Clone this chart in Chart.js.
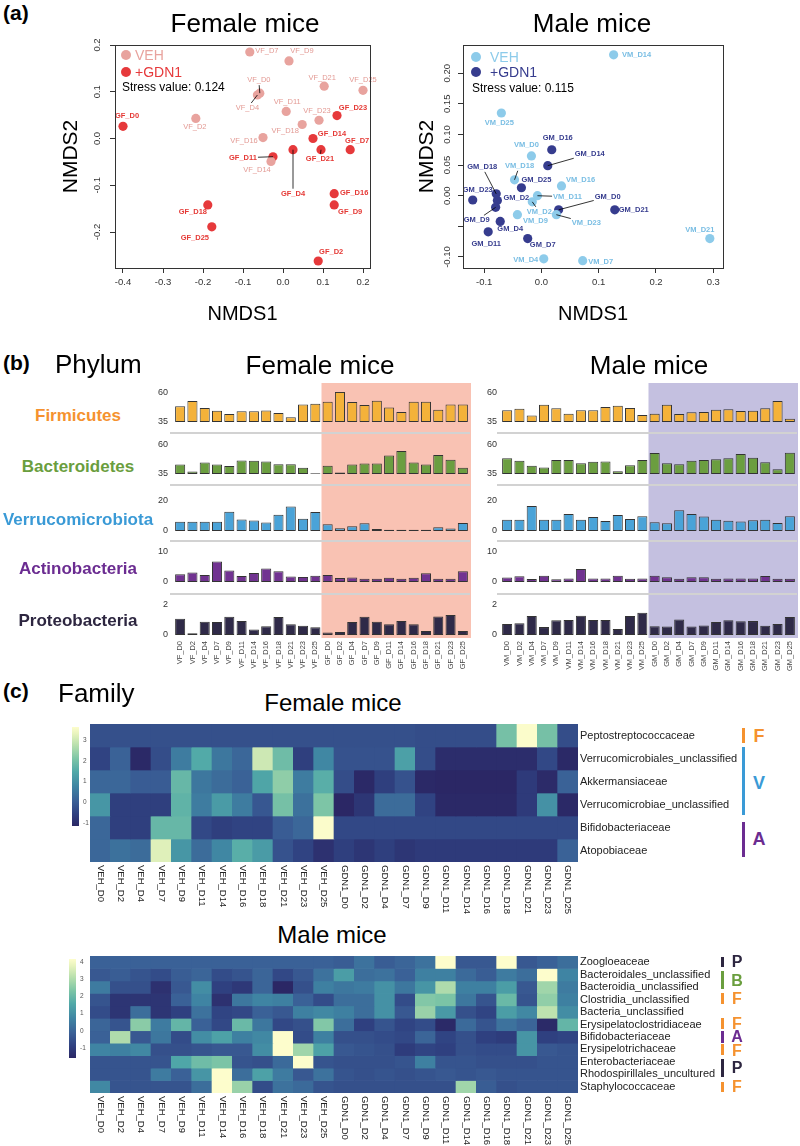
<!DOCTYPE html>
<html><head><meta charset="utf-8">
<script src="https://cdn.jsdelivr.net/npm/chart.js@4.4.1/dist/chart.umd.min.js"></script>
<style>
body{margin:0;background:#fff;}
#root{position:relative;width:800px;height:1146px;overflow:hidden;font-family:'Liberation Sans',Arial,Helvetica,sans-serif;background:#fff;}
canvas{position:absolute;}
.t{position:absolute;white-space:nowrap;line-height:1;}
</style></head><body><div id="root"></div>
<script>
// ---------------- DATA ----------------
// (a) NMDS, female
const femaleVehLabels = ['VF_D0','VF_D2','VF_D4','VF_D7','VF_D9','VF_D11','VF_D14','VF_D16','VF_D18','VF_D21','VF_D23','VF_D25'];
const femaleVehX = [-0.058,-0.218,-0.064,-0.083,0.015,0.008,-0.030,-0.050,0.048,0.103,0.090,0.200];
const femaleVehY = [0.097,0.043,0.093,0.185,0.166,0.058,-0.049,0.002,0.030,0.112,0.039,0.103];
const femaleGdnLabels = ['GF_D0','GF_D2','GF_D4','GF_D7','GF_D9','GF_D11','GF_D14','GF_D16','GF_D18','GF_D21','GF_D23','GF_D25'];
const femaleGdnX = [-0.400,0.088,0.025,0.168,0.128,-0.025,0.075,0.128,-0.188,0.095,0.135,-0.178];
const femaleGdnY = [0.026,-0.262,-0.024,-0.024,-0.142,-0.039,0.000,-0.118,-0.142,-0.024,0.049,-0.189];
// (a) NMDS, male
const maleVehLabels = ['VM_D0','VM_D2','VM_D4','VM_D7','VM_D9','VM_D11','VM_D14','VM_D16','VM_D18','VM_D21','VM_D23','VM_D25'];
const maleVehX = [-0.0175,-0.016,0.004,0.072,-0.042,-0.007,0.126,0.035,-0.047,0.294,0.026,-0.070];
const maleVehY = [0.065,-0.010,-0.103,-0.106,-0.031,0.000,0.230,0.016,0.026,-0.070,-0.031,0.135];
const maleGdnLabels = ['GM_D0','GM_D2','GM_D4','GM_D7','GM_D9','GM_D11','GM_D14','GM_D16','GM_D18','GM_D21','GM_D23','GM_D25'];
const maleGdnX = [0.030,-0.077,-0.072,-0.024,-0.080,-0.093,0.011,0.018,-0.079,0.128,-0.120,-0.035];
const maleGdnY = [-0.023,-0.008,-0.042,-0.070,-0.019,-0.059,0.049,0.075,0.003,-0.023,-0.007,0.013];
const femaleXTicks = [-0.4,-0.3,-0.2,-0.1,0.0,0.1,0.2];
const femaleYTicks = [-0.2,-0.1,0.0,0.1,0.2];
const maleXTicks = [-0.1,0.0,0.1,0.2,0.3];
const maleYTicks = [-0.10,-0.05,0.00,0.05,0.10,0.15,0.20];
const maleYTickText = ['-0.10','','0.00','0.05','0.10','0.15','0.20'];

// (b) Phylum relative abundance
const femaleSamples = ['VF_D0','VF_D2','VF_D4','VF_D7','VF_D9','VF_D11','VF_D14','VF_D16','VF_D18','VF_D21','VF_D23','VF_D25','GF_D0','GF_D2','GF_D4','GF_D7','GF_D9','GF_D11','GF_D14','GF_D16','GF_D18','GF_D21','GF_D23','GF_D25'];
const maleSamples = ['VM_D0','VM_D2','VM_D4','VM_D7','VM_D9','VM_D11','VM_D14','VM_D16','VM_D18','VM_D21','VM_D23','VM_D25','GM_D0','GM_D2','GM_D4','GM_D7','GM_D9','GM_D11','GM_D14','GM_D16','GM_D18','GM_D21','GM_D23','GM_D25'];
const phylumNames = ['Firmicutes','Bacteroidetes','Verrucomicrobiota','Actinobacteria','Proteobacteria'];
const phylumTicks = [[35,60],[35,60],[0,20],[0,10],[0,2]];
const femaleFirmicutes = [48.5,53.1,47.1,44.8,41.9,44.2,44.2,45.0,42.8,39.0,50.0,50.8,52.5,60.9,52.2,49.7,53.4,47.4,43.6,52.5,52.5,45.6,50.0,50.0];
const femaleBacteroidetes = [43.1,37.1,44.9,43.1,41.9,46.7,46.4,45.8,43.4,43.4,40.4,35.6,42.2,36.2,43.1,44.0,44.0,51.0,54.9,44.9,43.1,51.3,47.3,40.4];
const femaleVerrucomicrobiota = [6.1,6.1,6.1,6.1,12.8,7.6,7.0,5.6,10.8,16.4,8.1,12.6,4.5,1.8,3.1,5.2,1.3,0.9,0.9,0.9,0.9,2.5,1.6,5.4];
const femaleActinobacteria = [2.6,3.2,2.3,6.8,3.8,2.0,3.0,4.5,3.6,1.8,1.7,2.1,2.3,1.3,1.5,1.1,1.1,1.4,1.1,1.4,2.9,1.1,1.1,3.6];
const femaleProteobacteria = [1.09,0.11,0.89,0.87,1.22,0.93,0.36,0.58,1.20,0.71,0.62,0.51,0.16,0.20,0.87,1.22,0.89,0.71,0.93,0.71,0.27,1.24,1.33,0.27];
const maleFirmicutes = [45.1,46.5,40.7,49.9,46.8,42.2,45.1,45.1,47.9,49.1,47.1,41.0,42.2,49.9,41.9,43.3,43.6,45.6,45.9,44.5,44.8,46.8,53.1,37.9];
const maleBacteroidetes = [48.6,46.4,42.2,40.7,47.0,47.0,44.3,45.5,45.8,37.4,42.5,47.0,53.1,44.3,43.4,46.4,47.0,47.7,48.6,52.2,48.9,45.2,39.2,53.4];
const maleVerrucomicrobiota = [7.5,7.5,16.7,7.5,7.5,11.3,7.5,9.4,6.6,10.6,8.0,9.9,5.9,5.2,13.9,11.3,9.6,7.5,6.8,6.4,7.1,7.5,5.4,9.9];
const maleActinobacteria = [1.5,1.9,1.0,2.1,0.9,1.2,4.3,1.2,1.2,2.1,1.1,1.2,2.1,1.6,1.1,1.6,1.6,1.1,1.2,1.2,1.2,2.0,1.1,1.1];
const maleProteobacteria = [0.73,0.78,1.27,0.53,0.98,1.00,1.29,1.00,1.00,0.40,1.27,1.49,0.58,0.56,1.04,0.56,0.64,0.87,0.98,0.91,0.93,0.62,0.73,1.20];

// (c) Family heatmaps (z-scores)
const heatColumns = ['VEH_D0','VEH_D2','VEH_D4','VEH_D7','VEH_D9','VEH_D11','VEH_D14','VEH_D16','VEH_D18','VEH_D21','VEH_D23','VEH_D25','GDN1_D0','GDN1_D2','GDN1_D4','GDN1_D7','GDN1_D9','GDN1_D11','GDN1_D14','GDN1_D16','GDN1_D18','GDN1_D21','GDN1_D23','GDN1_D25'];
const femaleFamilies = ['Peptostreptococcaceae','Verrucomicrobiales_unclassified','Akkermansiaceae','Verrucomicrobiae_unclassified','Bifidobacteriaceae','Atopobiaceae'];
const fPeptostreptococcaceae = [-0.25,-0.25,-0.25,-0.25,-0.25,-0.25,-0.25,-0.25,-0.25,-0.25,-0.25,-0.25,-0.25,-0.25,-0.25,-0.25,-0.3,-0.3,-0.3,-0.3,2.0,3.6,2.0,-0.3];
const fVerrucomicrobialesUnc = [-0.5,0.1,-1.1,-0.3,0.6,1.5,0.5,0.2,3.0,1.9,-0.6,0.8,-0.2,-0.2,-0.2,1.3,-0.3,-1.0,-1.0,-1.0,-1.0,-1.0,-0.4,-1.1];
const fAkkermansiaceae = [0.2,0.2,0.0,0.0,1.8,0.5,0.3,0.1,1.4,2.3,0.6,1.6,-0.3,-1.1,-0.6,-0.2,-1.1,-1.15,-1.2,-1.2,-1.2,-0.7,-1.05,0.1];
const fVerrucomicrobiaeUnc = [1.1,-0.6,-0.6,-0.6,1.7,0.6,1.2,0.6,-0.1,2.0,0.4,2.1,-1.2,-0.8,0.3,0.3,-0.5,-1.1,-1.1,-1.1,-1.1,-0.7,1.0,-1.1];
const fBifidobacteriaceae = [0.2,-0.6,-0.6,1.8,1.8,-0.4,-0.6,-0.5,-0.5,0.0,0.2,3.6,-0.4,-0.4,-0.4,-0.4,-0.4,-0.4,-0.4,-0.4,-0.4,-0.4,-0.4,-0.4];
const fAtopobiaceae = [0.2,0.4,0.3,3.2,1.1,0.3,0.8,1.6,1.2,-0.2,-0.5,-0.9,-0.6,-0.8,-0.6,-0.8,-0.7,-0.7,-0.7,-0.7,-0.7,-0.7,-0.7,0.1];
const maleFamilies = ['Zoogloeaceae','Bacteroidales_unclassified','Bacteroidia_unclassified','Clostridia_unclassified','Bacteria_unclassified','Erysipelatoclostridiaceae','Bifidobacteriaceae','Erysipelotrichaceae','Enterobacteriaceae','Rhodospirillales_uncultured','Staphylococcaceae'];
const mZoogloeaceae = [-0.1,-0.1,-0.1,-0.1,-0.1,-0.1,-0.1,-0.1,-0.1,-0.1,-0.1,-0.1,-0.2,0.3,-0.2,0.0,0.3,4.2,-0.3,-0.3,4.2,-0.3,-0.1,0.2];
const mBacteroidalesUnc = [-0.3,-0.2,-0.4,-0.6,-0.2,0.0,-0.6,-0.4,0.0,-0.7,-0.3,0.3,1.3,0.2,0.3,-0.1,0.6,0.6,0.1,-0.2,0.5,0.2,4.2,0.7];
const mBacteroidiaUnc = [0.5,-0.5,-0.5,-1.3,-0.3,0.9,-0.9,-1.1,0.0,-1.7,-0.5,0.6,0.4,0.5,1.0,0.4,1.1,3.0,0.6,0.6,1.3,-0.3,2.8,0.5];
const mClostridiaUnc = [-0.4,-1.2,-1.2,-1.2,-0.1,0.7,-1.3,0.4,0.7,0.6,-0.1,-0.6,0.2,0.2,1.0,-0.6,2.4,2.3,0.4,-0.4,2.0,-0.4,2.6,0.6];
const mBacteriaUnc = [-0.6,-1.2,0.2,-1.2,-0.9,0.3,-0.8,-0.7,-0.1,-0.3,0.6,0.8,0.6,0.2,1.0,-0.3,2.7,1.2,-0.5,-0.8,1.3,0.8,3.2,0.9];
const mErysipelatoclostridiaceae = [0.0,-0.4,2.5,0.5,1.9,-0.1,-0.7,2.0,0.4,-0.7,-0.5,2.4,0.2,-0.9,-0.4,-0.8,-0.6,-1.5,0.1,-0.4,0.3,0.0,-1.5,1.9];
const mBifidobacteriaceae = [-0.1,3.0,-0.3,0.4,-0.6,0.9,1.4,0.6,0.8,4.2,-0.6,0.6,-0.5,-0.5,-0.6,-0.7,0.0,-0.8,-0.5,-0.9,-1.0,1.1,-0.9,-0.8];
const mErysipelotrichaceae = [0.7,0.6,0.8,-0.5,-0.5,-0.4,-0.3,-0.3,0.9,4.2,2.8,1.4,-0.3,-0.4,-0.5,-1.0,-0.8,-0.9,-0.5,-0.6,-0.6,1.1,-0.3,-0.4];
const mEnterobacteriaceae = [-0.4,-0.4,-0.4,-0.4,1.5,2.1,2.3,-0.4,-0.5,0.1,4.2,-0.4,-0.5,-0.5,-0.5,-0.4,0.6,-0.4,-0.4,-0.5,-0.5,-0.5,-0.4,-0.4];
const mRhodospirillalesUnc = [-0.4,-0.4,-0.4,0.5,-0.1,1.1,4.2,0.2,1.4,0.5,-0.3,0.3,-0.4,-0.5,-0.4,-0.5,-0.4,-0.3,-0.4,-0.3,-0.4,-0.4,-0.4,-0.4];
const mStaphylococcaceae = [0.8,-0.4,-0.4,-0.4,-0.4,0.2,4.2,2.7,-0.6,0.3,0.1,-0.4,-0.5,-0.5,-0.5,-0.5,-0.5,-0.5,2.8,-0.2,-0.5,-0.4,-0.4,-0.4];
const femaleScaleTicks = [-1,0,1,2,3];
const maleScaleTicks = [-1,0,1,2,3,4];

// ---------------- STYLE / LAYOUT ----------------
const FONT = "'Liberation Sans', Arial, Helvetica, sans-serif";
Chart.defaults.font.family = FONT;
Chart.defaults.color = '#333';
const root = document.getElementById('root');
function mkCanvas(l,t,w,h){const c=document.createElement('canvas');c.width=w;c.height=h;Object.assign(c.style,{left:l+'px',top:t+'px',width:w+'px',height:h+'px'});root.appendChild(c);return c;}
function txt(s,x,y,o={}){const d=document.createElement('div');d.className='t';d.textContent=s;Object.assign(d.style,{left:x+'px',top:y+'px',fontSize:(o.size||12)+'px',fontWeight:o.bold?'bold':'normal',color:o.color||'#000',transform:o.align==='left'?'translate(0,-50%)':'translate(-50%,-50%)'});root.appendChild(d);}
function dot(x,y,r,c){const d=document.createElement('div');Object.assign(d.style,{position:'absolute',left:(x-r)+'px',top:(y-r)+'px',width:2*r+'px',height:2*r+'px',borderRadius:'50%',background:c});root.appendChild(d);}
function vline(x,y1,y2,c,w){const d=document.createElement('div');Object.assign(d.style,{position:'absolute',left:x+'px',top:y1+'px',width:(w||3)+'px',height:(y2-y1)+'px',background:c});root.appendChild(d);}
const baseOpts = {responsive:false,animation:false,devicePixelRatio:1,events:[],plugins:{legend:{display:false},tooltip:{enabled:false}}};
function noPad(s){s.paddingTop=0;s.paddingBottom=0;s.paddingLeft=0;s.paddingRight=0;}

const COL = {vehF:'#E8A39E',gdnF:'#E6393B',vehFt:'#E39A94',gdnFt:'#E53935',vehM:'#8DCBEA',gdnM:'#363C8E',vehMt:'#78BDE3',gdnMt:'#363C8E'};
const PHY_COL = ['#F4B23A','#6B9E40','#4AA3D8','#713391','#2F2A48'];
const PHY_TXT = ['#F5922F','#6A9E3E','#3A9AD6','#6B2C91','#2D2640'];

// label offsets (px) for scatter text [dx, dy, leaderLine]
const femaleVehOff = [[-1,-13,1],[-1,9],[-10,13,1],[17,-1],[13,-10],[1,-9],[-14,9],[-19,3],[-17,6],[-2,-8],[-2,-9],[0,-10]];
const femaleGdnOff = [[4,-10],[13,-9],[0,44,1],[7,-9],[16,7],[-30,1,1],[19,-5],[20,-1],[-15,7],[-1,9,1],[16,-8],[-17,11]];
const maleVehOff = [[-5,-11],[7,10,1],[-18,1],[18,1],[18,6],[30,1,1],[23,0],[19,-6],[5,-14,1],[-10,-9],[30,8,1],[-2,10]];
const maleGdnOff = [[49,-13,1],[19,-3],[10,7],[15,6],[-19,13,1],[-2,12],[42,-12,1],[6,-12],[-14,-27,1],[19,0],[5,-10],[15,-8]];

const framePlugin = {id:'frame',afterDraw(ch){const a=ch.chartArea,c=ch.ctx;c.save();c.strokeStyle='#333';c.lineWidth=1;c.strokeRect(Math.round(a.left)+0.5,Math.round(a.top)+0.5,Math.round(a.right-a.left),Math.round(a.bottom-a.top));c.restore();}};
const labelPlugin = {id:'ptLabels',afterDatasetsDraw(ch){const c=ch.ctx;ch.data.datasets.forEach((ds,di)=>{const meta=ch.getDatasetMeta(di);c.save();c.font=(ds.bold?'bold ':'')+'7.5px '+FONT;c.textAlign='center';c.textBaseline='middle';meta.data.forEach((pt,i)=>{const o=ds.offs[i],dx=o[0],dy=o[1];const name=ds.names[i];if(o[2]){const hw=c.measureText(name).width/2+1,hh=5;const rx=Math.abs(dx)>0?hw/Math.abs(dx):Infinity,ry=Math.abs(dy)>0?hh/Math.abs(dy):Infinity;const t=Math.max(0,1-Math.min(rx,ry));c.strokeStyle='#000';c.lineWidth=0.8;c.beginPath();c.moveTo(pt.x,pt.y);c.lineTo(pt.x+dx*t,pt.y+dy*t);c.stroke();}c.fillStyle=ds.textColor;c.fillText(name,pt.x+dx,pt.y+dy);});c.restore();});}};

function nmds(cfg){
  const cv=mkCanvas(cfg.left,cfg.top,cfg.w,cfg.h);
  const mk=(xs,ys)=>xs.map((x,i)=>({x,y:ys[i]}));
  new Chart(cv,{type:'scatter',
    data:{datasets:[
      {label:'VEH',data:mk(cfg.vehX,cfg.vehY),backgroundColor:cfg.vehColor,pointRadius:4.6,pointBorderWidth:0,names:cfg.vehLabels,offs:cfg.vehOff,textColor:cfg.vehText,bold:cfg.vehBold},
      {label:'+GDN1',data:mk(cfg.gdnX,cfg.gdnY),backgroundColor:cfg.gdnColor,pointRadius:4.6,pointBorderWidth:0,names:cfg.gdnLabels,offs:cfg.gdnOff,textColor:cfg.gdnText,bold:true}]},
    options:Object.assign({},baseOpts,{
      layout:{padding:{top:cfg.padTop,right:cfg.padRight,left:0,bottom:0}},
      scales:{
        x:{type:'linear',min:cfg.xMin,max:cfg.xMax,afterBuildTicks:s=>{s.ticks=cfg.xTicks.map(v=>({value:v}));},afterFit:s=>{s.height=cfg.xAxisH;noPad(s);},
           grid:{drawOnChartArea:false,tickLength:5,color:'#333'},border:{display:false},
           ticks:{font:{size:9.5},color:'#333',padding:4,maxRotation:0,autoSkip:false,callback:(v,i)=>cfg.xText[i]},
           title:{display:true,text:'NMDS1',font:{size:20},color:'#000',padding:{top:0,bottom:4}}},
        y:{type:'linear',min:cfg.yMin,max:cfg.yMax,afterBuildTicks:s=>{s.ticks=cfg.yTicks.map(v=>({value:v}));},afterFit:s=>{s.width=cfg.yAxisW;noPad(s);},
           grid:{drawOnChartArea:false,tickLength:5,color:'#333'},border:{display:false},
           ticks:{font:{size:9.5},color:'#333',padding:cfg.yPad,minRotation:90,maxRotation:90,crossAlign:'center',autoSkip:false,callback:(v,i)=>cfg.yText[i]},
           title:{display:true,text:'NMDS2',font:{size:21},color:'#000',padding:{top:cfg.yTitlePad,bottom:0}}}
      }}),
    plugins:[framePlugin,labelPlugin]});
}

nmds({left:40,top:30,w:350,h:300,padTop:15,padRight:20,xAxisH:62,yAxisW:75,yTitlePad:19,yPad:4,
  xMin:-0.42,xMax:0.2175,yMin:-0.277,yMax:0.2,xTicks:femaleXTicks,yTicks:femaleYTicks,
  xText:femaleXTicks.map(v=>v.toFixed(1)),yText:femaleYTicks.map(v=>v.toFixed(1)),
  vehX:femaleVehX,vehY:femaleVehY,vehLabels:femaleVehLabels,vehOff:femaleVehOff,vehColor:COL.vehF,vehText:COL.vehFt,vehBold:false,
  gdnX:femaleGdnX,gdnY:femaleGdnY,gdnLabels:femaleGdnLabels,gdnOff:femaleGdnOff,gdnColor:COL.gdnF,gdnText:COL.gdnFt});
nmds({left:390,top:30,w:350,h:300,padTop:15,padRight:17,xAxisH:62,yAxisW:73,yTitlePad:25,yPad:0,
  xMin:-0.137,xMax:0.317,yMin:-0.118,yMax:0.246,xTicks:maleXTicks,yTicks:maleYTicks,
  xText:maleXTicks.map(v=>v.toFixed(1)),yText:maleYTickText,
  vehX:maleVehX,vehY:maleVehY,vehLabels:maleVehLabels,vehOff:maleVehOff,vehColor:COL.vehM,vehText:COL.vehMt,vehBold:true,
  gdnX:maleGdnX,gdnY:maleGdnY,gdnLabels:maleGdnLabels,gdnOff:maleGdnOff,gdnColor:COL.gdnM,gdnText:COL.gdnMt});

// ---- phylum bar charts ----
const axisRanges = [[25.52,70.34,52],[25.52,70.34,52],[-6.67,30.67,56],[-4,13.67,53],[-0.2,2.733,44]];
function phylum(cfg){
  const cv=mkCanvas(cfg.left,cfg.top,cfg.w,cfg.h);
  const scales={x:{type:'category',labels:cfg.samples,grid:{display:false,drawTicks:false},border:{display:false},afterFit:s=>{s.height=cfg.xH;noPad(s);},
    ticks:{minRotation:90,maxRotation:90,autoSkip:false,font:{size:7.5},color:'#444',padding:3}}};
  cfg.series.forEach((vals,i)=>{
    scales['y'+i]={type:'linear',position:'left',stack:'phylum',stackWeight:axisRanges[i][2],weight:10-i,min:axisRanges[i][0],max:axisRanges[i][1],
      afterBuildTicks:s=>{s.ticks=phylumTicks[i].map(v=>({value:v}));},afterFit:s=>{s.width=cfg.yW;noPad(s);},
      grid:{display:false,drawTicks:false},border:{display:false},ticks:{font:{size:9},color:'#333',padding:cfg.tickPad,autoSkip:false}};
  });
  const shade={id:'shade',beforeDatasetsDraw(ch){const x=ch.scales.x,a=ch.chartArea,c=ch.ctx;const slot=x.getPixelForValue(1)-x.getPixelForValue(0);const l=x.getPixelForValue(12)-slot/2;c.save();c.fillStyle=cfg.shade;c.fillRect(l,a.top+2,a.right+2-l,a.bottom-a.top-2);
    c.strokeStyle='#d2d2d2';c.lineWidth=2;for(let i=1;i<5;i++){const y=ch.scales['y'+i].top;c.beginPath();c.moveTo(a.left-4,y);c.lineTo(a.right+1,y);c.stroke();}c.restore();}};
  new Chart(cv,{type:'bar',data:{labels:cfg.samples,datasets:cfg.series.map((vals,i)=>({data:vals,yAxisID:'y'+i,backgroundColor:PHY_COL[i],borderColor:'#333',borderWidth:1,borderSkipped:false,barPercentage:0.82,categoryPercentage:1,grouped:false,base:phylumTicks[i][0]}))},
    options:Object.assign({},baseOpts,{layout:{padding:{top:5,right:cfg.padRight,left:0,bottom:0}},scales}),plugins:[shade]});
}
phylum({left:138,top:376,w:333,h:300,yW:36,padRight:2,xH:38,tickPad:6,samples:femaleSamples,shade:'#F9C2B3',
  series:[femaleFirmicutes,femaleBacteroidetes,femaleVerrucomicrobiota,femaleActinobacteria,femaleProteobacteria]});
phylum({left:466,top:376,w:334,h:300,yW:35,padRight:4,xH:38,tickPad:4,samples:maleSamples,shade:'#C4C0E0',
  series:[maleFirmicutes,maleBacteroidetes,maleVerrucomicrobiota,maleActinobacteria,maleProteobacteria]});

// ---- heatmaps ----
const PAL=[[0,'#2b2765'],[0.12,'#2f4080'],[0.25,'#3a5f96'],[0.4,'#3f85a3'],[0.55,'#51a9a8'],[0.68,'#7dc5a6'],[0.82,'#b9e0ad'],[0.93,'#e7f3bd'],[1,'#fdfdcc']];
function hex(h){return [1,3,5].map(k=>parseInt(h.substr(k,2),16));}
function heatColor(v,min,max){let t=(v-min)/(max-min);t=Math.max(0,Math.min(1,t));for(let k=1;k<PAL.length;k++){if(t<=PAL[k][0]){const a=hex(PAL[k-1][1]),b=hex(PAL[k][1]);const f=(t-PAL[k-1][0])/(PAL[k][0]-PAL[k-1][0]);return 'rgb('+a.map((x,j)=>Math.round(x+(b[j]-x)*f)).join(',')+')';}}return PAL[PAL.length-1][1];}
function heatmap(cfg){
  const cv=mkCanvas(cfg.left,cfg.top,cfg.w,cfg.h);
  const n=cfg.rows.length;
  const colLab={id:'colLab',afterDraw(ch){const x=ch.scales.x,c=ch.ctx,a=ch.chartArea;c.save();c.font='9.5px '+FONT;c.fillStyle='#222';c.textAlign='left';c.textBaseline='middle';cfg.cols.forEach((lab,i)=>{c.save();c.translate(x.getPixelForValue(i),a.bottom+3);c.rotate(Math.PI/2);c.fillText(lab,0,0);c.restore();});c.restore();}};
  new Chart(cv,{type:'bar',data:{labels:cfg.cols,datasets:cfg.rows.map((vals,r)=>({data:vals.map(()=>[r,r+1]),backgroundColor:vals.map(v=>heatColor(v,cfg.min,cfg.max)),borderWidth:0,barPercentage:1,categoryPercentage:1,grouped:false}))},
    options:Object.assign({},baseOpts,{layout:{padding:0},scales:{
      x:{type:'category',ticks:{display:false},grid:{display:false},border:{display:false},afterFit:s=>{s.height=cfg.xH;noPad(s);}},
      y:{type:'linear',position:'right',min:0,max:n,reverse:true,afterBuildTicks:s=>{s.ticks=cfg.names.map((_,i)=>({value:i+0.5}));},afterFit:s=>{s.width=cfg.yW;noPad(s);},
         grid:{display:false,drawTicks:false},border:{display:false},ticks:{autoSkip:false,font:{size:11},color:'#222',padding:2,callback:(v,i)=>cfg.names[i]}}}}),
    plugins:[colLab]});
}
function colorbar(cfg){
  const cv=mkCanvas(cfg.left,cfg.top-5,cfg.w+cfg.labW,cfg.h+10);
  new Chart(cv,{type:'bar',data:{labels:[''],datasets:[{data:[[cfg.min,cfg.max]],borderWidth:0,barPercentage:1,categoryPercentage:1,
    backgroundColor:(c)=>{const a=c.chart.chartArea;if(!a)return '#888';const g=c.chart.ctx.createLinearGradient(0,a.bottom,0,a.top);PAL.forEach(p=>g.addColorStop(p[0],p[1]));return g;}}]},
    options:Object.assign({},baseOpts,{layout:{padding:{top:5,bottom:5,left:0,right:0}},scales:{
      x:{display:false},
      y:{type:'linear',position:'right',min:cfg.min,max:cfg.max,afterBuildTicks:s=>{s.ticks=cfg.ticks.map(v=>({value:v}));},afterFit:s=>{s.width=cfg.labW;noPad(s);},
         grid:{display:false,drawTicks:false},border:{display:false},ticks:{font:{size:6.5},color:'#555',padding:4,autoSkip:false}}}})});
}
const femaleRange=[-1.14,3.63], maleRange=[-1.58,4.17];
heatmap({left:90,top:724,w:648,h:194,xH:56,yW:160,cols:heatColumns,names:femaleFamilies,min:femaleRange[0],max:femaleRange[1],
  rows:[fPeptostreptococcaceae,fVerrucomicrobialesUnc,fAkkermansiaceae,fVerrucomicrobiaeUnc,fBifidobacteriaceae,fAtopobiaceae]});
heatmap({left:90,top:956,w:648,h:190,xH:53,yW:160,cols:heatColumns,names:maleFamilies,min:maleRange[0],max:maleRange[1],
  rows:[mZoogloeaceae,mBacteroidalesUnc,mBacteroidiaUnc,mClostridiaUnc,mBacteriaUnc,mErysipelatoclostridiaceae,mBifidobacteriaceae,mErysipelotrichaceae,mEnterobacteriaceae,mRhodospirillalesUnc,mStaphylococcaceae]});
colorbar({left:72,top:727,w:7,h:99,labW:20,min:femaleRange[0],max:femaleRange[1],ticks:femaleScaleTicks});
colorbar({left:69,top:959,w:7,h:99,labW:18,min:maleRange[0],max:maleRange[1],ticks:maleScaleTicks});

// ---- text & annotations ----
txt('(a)',3,12,{bold:true,size:21,align:'left'});
txt('Female mice',245,23,{size:26});
txt('Male mice',592,23,{size:26});
dot(126,55,5,COL.vehF); txt('VEH',135,55,{size:14,color:COL.vehF,align:'left'});
dot(126,72,5,COL.gdnF); txt('+GDN1',135,72,{size:14,color:COL.gdnF,align:'left'});
txt('Stress value: 0.124',122,87,{size:12,align:'left'});
dot(476,57,5,COL.vehM); txt('VEH',490,57,{size:14,color:COL.vehM,align:'left'});
dot(476,72,5,COL.gdnM); txt('+GDN1',490,72,{size:14,color:COL.gdnM,align:'left'});
txt('Stress value: 0.115',472,88,{size:12,align:'left'});

txt('(b)',3,362,{bold:true,size:21,align:'left'});
txt('Phylum',55,364,{size:26,align:'left'});
txt('Female mice',320,365,{size:26});
txt('Male mice',649,365,{size:26});
const phyY=[415,466,519,568,620];
phylumNames.forEach((n,i)=>txt(n,78,phyY[i],{size:17,bold:true,color:PHY_TXT[i]}));

txt('(c)',3,690,{bold:true,size:21,align:'left'});
txt('Family',58,693,{size:26,align:'left'});
txt('Female mice',333,703,{size:24});
txt('Male mice',332,935,{size:24});
// group markers, female
vline(742,728,743,'#F5922F'); txt('F',759,736,{size:18,bold:true,color:'#F5922F'});
vline(742,747,815,'#3A9AD6'); txt('V',759,783,{size:18,bold:true,color:'#3A9AD6'});
vline(742,822,857,'#6B2C91'); txt('A',759,839,{size:18,bold:true,color:'#6B2C91'});
// group markers, male
const mg=[[957,967,962,'P','#2D2640'],[971,989,981,'B','#6A9E3E'],[993,1004,999,'F','#F5922F'],[1018,1029,1024,'F','#F5922F'],[1031,1043,1037,'A','#6B2C91'],[1044,1055,1051,'F','#F5922F'],[1059,1077,1068,'P','#2D2640'],[1082,1092,1087,'F','#F5922F']];
mg.forEach(g=>{vline(721,g[0],g[1],g[4]);txt(g[3],737,g[2],{size:16,bold:true,color:g[4]});});
</script></body></html>
